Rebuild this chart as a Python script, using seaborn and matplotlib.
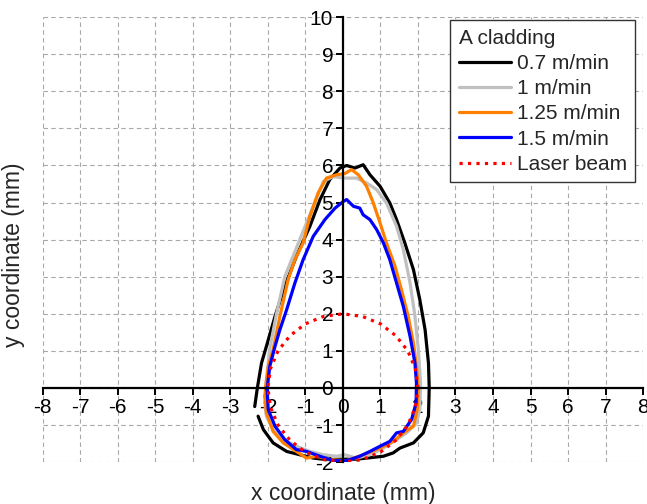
import numpy as np
import pandas as pd
import matplotlib
matplotlib.use("Agg")
import matplotlib.pyplot as plt
from matplotlib.ticker import MultipleLocator
import seaborn as sns

# ---- data ----
black_x = [-2.35, -2.28, -2.17, -2.04, -1.81, -1.55, -1.24, -0.88, -0.61, -0.35, -0.08, 0.10, 0.32, 0.54,
           0.72, 0.99, 1.25, 1.43, 1.65, 1.88, 2.05, 2.19, 2.28, 2.30, 2.28, 2.14, 1.88, 1.52, 1.34, 1.08,
           0.72, 0.36, 0.00, -0.44, -0.79, -1.15, -1.50, -1.86, -2.12, -2.26]
black_y = [-0.50, 0.00, 0.67, 1.12, 1.93, 2.74, 3.55, 4.36, 5.08, 5.62, 5.93, 6.00, 5.93, 6.02,
           5.75, 5.44, 4.99, 4.54, 3.91, 3.19, 2.38, 1.57, 0.67, 0.00, -0.76, -1.21, -1.48, -1.62, -1.75, -1.84,
           -1.88, -1.92, -1.92, -1.93, -1.89, -1.80, -1.71, -1.48, -1.12, -0.76]

gray_x = [-2.08, -2.05, -1.96, -1.77, -1.55, -1.15, -0.75, -0.52, -0.26, 0.01, 0.36, 0.63, 0.90, 1.16,
          1.43, 1.61, 1.79, 1.92, 2.01, 2.07, 2.05, 1.96, 1.70, 1.43, 1.08, 0.72, 0.36, 0.05, -0.17, -0.52,
          -0.88, -1.24, -1.59, -1.86, -2.04, -2.08]
gray_y = [-0.40, 0.00, 1.00, 2.00, 3.00, 4.00, 5.00, 5.57, 5.70, 5.66, 5.66, 5.53, 5.35, 4.99,
          4.36, 3.73, 2.83, 1.93, 1.03, 0.13, -0.58, -0.94, -1.21, -1.39, -1.62, -1.80, -1.89, -1.80, -1.84, -1.80,
          -1.71, -1.57, -1.39, -1.12, -0.76, -0.40]

orange_x = [-2.08, -2.05, -1.99, -1.86, -1.68, -1.46, -1.28, -1.06, -0.88, -0.66, -0.44, -0.17, 0.05, 0.23,
            0.41, 0.63, 0.81, 0.99, 1.16, 1.39, 1.56, 1.74, 1.88, 1.96, 2.01, 1.98, 1.88, 1.61, 1.34, 0.99,
            0.54, 0.10, -0.35, -0.70, -0.97, -1.24, -1.59, -1.86, -2.04, -2.08]
orange_y = [-0.22, 0.13, 0.58, 1.03, 1.93, 2.92, 3.46, 3.91, 4.63, 5.26, 5.66, 5.75, 5.78, 5.89,
            5.75, 5.44, 4.99, 4.45, 3.91, 3.28, 2.65, 1.93, 1.21, 0.58, -0.04, -0.58, -1.03, -1.21, -1.44, -1.62,
            -1.80, -1.96, -1.93, -1.84, -1.89, -1.71, -1.48, -1.17, -0.67, -0.22]

blue_x = [-2.02, -1.95, -1.81, -1.68, -1.50, -1.28, -1.06, -0.79, -0.48, -0.21, 0.01, 0.10, 0.28, 0.45,
          0.54, 0.72, 0.90, 1.08, 1.25, 1.43, 1.61, 1.79, 1.92, 1.96, 1.95, 1.83, 1.61, 1.43, 1.25, 0.99,
          0.72, 0.45, 0.10, -0.26, -0.61, -0.97, -1.24, -1.55, -1.81, -1.99, -2.02]
blue_y = [-0.04, 0.58, 1.12, 1.57, 2.11, 2.83, 3.46, 4.09, 4.54, 4.85, 5.03, 5.08, 4.90, 4.85,
          4.67, 4.54, 4.27, 3.91, 3.46, 2.83, 2.20, 1.39, 0.67, 0.13, -0.40, -0.85, -1.17, -1.21, -1.44, -1.57,
          -1.71, -1.84, -1.96, -1.96, -1.84, -1.71, -1.66, -1.39, -1.03, -0.58, -0.04]

laser_x = [2.00, 1.93, 1.73, 1.41, 1.00, 0.52, 0.00, -0.52, -1.00, -1.41, -1.73, -1.93, -2.00,
           -1.93, -1.73, -1.41, -1.00, -0.52, 0.00, 0.52, 1.00, 1.41, 1.73, 1.93, 2.00]
laser_y = [0.00, 0.52, 1.00, 1.41, 1.73, 1.93, 2.00, 1.93, 1.73, 1.41, 1.00, 0.52, 0.00,
           -0.52, -1.00, -1.41, -1.73, -1.93, -2.00, -1.93, -1.73, -1.41, -1.00, -0.52, 0.00]

labels = ["0.7 m/min", "1 m/min", "1.25 m/min", "1.5 m/min", "Laser beam"]
legend_title = "A cladding"
x_ticks = list(range(-8, 9))
y_ticks = list(range(-2, 11))

# ---- style ----
sns.set_style("white")
plt.rcParams['font.family'] = ['Liberation Sans', 'DejaVu Sans']
plt.rcParams['axes.unicode_minus'] = False

fig = plt.figure(figsize=(6.47, 5.04), dpi=100)
ax = fig.add_axes([0.066, 0.083, 0.928, 0.883])

series = [
    (black_x, black_y, "#000000", "-"),
    (gray_x, gray_y, "#c0c0c0", "-"),
    (orange_x, orange_y, "#ff7f00", "-"),
    (blue_x, blue_y, "#0000ff", "-"),
    (laser_x, laser_y, "#ff0000", ":"),
]
for (xs, ys, c, ls), lab in zip(series, labels):
    df = pd.DataFrame({"x": xs, "y": ys})
    sns.lineplot(data=df, x="x", y="y", sort=False, estimator=None, color=c,
                 linestyle=ls, lw=2.3, label=lab, ax=ax)

ax.set_xlim(-8, 8)
ax.set_ylim(-2, 10)
ax.set_xticks(x_ticks)
ax.set_yticks(y_ticks)
ax.xaxis.set_minor_locator(MultipleLocator(0.5))
ax.yaxis.set_minor_locator(MultipleLocator(0.5))

for s in ["top", "right"]:
    ax.spines[s].set_visible(False)
ax.spines["left"].set_position(("data", 0))
ax.spines["bottom"].set_position(("data", 0))
for s in ["left", "bottom"]:
    ax.spines[s].set_linewidth(1.6)
    ax.spines[s].set_color("black")

ax.tick_params(which="major", direction="out", length=5, width=1.4, labelsize=15,
               colors="black", pad=2)
ax.tick_params(which="minor", direction="out", length=3, width=1.2, colors="black")
ax.tick_params(axis="x", bottom=True)
ax.tick_params(axis="y", left=True)

ax.grid(True, which="major", color="#a8a8a8", linestyle=(0, (4, 3)), linewidth=0.8)
ax.set_axisbelow(True)

ax.set_xlabel("x coordinate (mm)", fontsize=16.5)
ax.set_ylabel("y coordinate (mm)", fontsize=16.5)
ax.xaxis.set_label_coords(0.5, -0.045)
ax.yaxis.set_label_coords(-0.03, 0.465)

leg = ax.legend(title=legend_title, loc="upper right", bbox_to_anchor=(0.987, 0.993),
                borderaxespad=0, fontsize=15, title_fontsize=15, frameon=True,
                fancybox=False, framealpha=1, edgecolor="#333333", handlelength=2.5,
                handletextpad=0.3, labelspacing=0.3, borderpad=0.4, alignment="left")
leg.get_frame().set_linewidth(1.0)

fig.savefig("out.png", dpi=100)
